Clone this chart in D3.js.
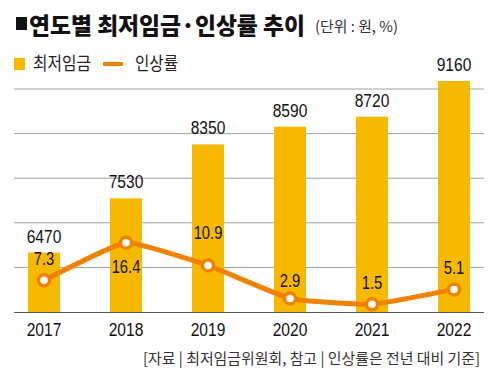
<!DOCTYPE html>
<html>
<head>
<meta charset="utf-8">
<script src="https://cdn.jsdelivr.net/npm/d3@7"></script>
<style>
  html, body { margin: 0; padding: 0; background: #fff; }
  svg { display: block; }
  .num { font-family: "Liberation Sans", Arial, sans-serif; fill: #111; }
  .kr { font-family: "Noto Sans CJK KR", "Noto Sans", sans-serif; }
</style>
</head>
<body>
<svg id="chart" width="500" height="388"></svg>
<script>
// data
const years = ["2017", "2018", "2019", "2020", "2021", "2022"]
const wages = [6470, 7530, 8350, 8590, 8720, 9160]
const rates = [7.3, 16.4, 10.9, 2.9, 1.5, 5.1]
const rateLabels = ["7.3", "16.4", "10.9", "2.9", "1.5", "5.1"]

const BAR = "#F7B900"
const LINE = "#EF8200"
const NARROW = 0.82 // digits in the original are condensed

const svg = d3.select("#chart")

// scales
// the bars in the original sit on a cut axis and grow faster than linear,
// so wage minus a floor is mapped on a square scale
const wageFloor = 3700
const x = d3.scalePoint().domain(years).range([44, 454])
const yBar = d3.scalePow().exponent(2).domain([0, 9160 - wageFloor]).range([312, 81])
const yRate = d3.scaleLinear().domain([0, 16.4]).range([310.5, 242.7])
const grid = d3.scaleLinear().domain([0, 5]).range([312, 89])
const barW = 32

const narrowAt = (px, py) => `translate(${px},${py}) scale(${NARROW},1)`

// title
svg.append("rect").attr("x", 16).attr("y", 17).attr("width", 11).attr("height", 13).attr("fill", "#111")
svg.append("text").attr("class", "kr")
  .attr("x", 29).attr("y", 34)
  .attr("font-size", 23).attr("font-weight", 900).attr("fill", "#111")
  .attr("textLength", 276).attr("lengthAdjust", "spacingAndGlyphs")
  .text("연도별 최저임금·인상률 추이")
svg.append("text").attr("class", "kr")
  .attr("x", 315).attr("y", 32)
  .attr("font-size", 15).attr("fill", "#333")
  .attr("textLength", 83).attr("lengthAdjust", "spacingAndGlyphs")
  .text("(단위 : 원, %)")

// legend
svg.append("rect").attr("x", 14).attr("y", 58).attr("width", 11).attr("height", 12).attr("fill", BAR)
svg.append("text").attr("class", "kr")
  .attr("x", 33).attr("y", 70)
  .attr("font-size", 18).attr("fill", "#222")
  .attr("textLength", 58).attr("lengthAdjust", "spacingAndGlyphs")
  .text("최저임금")
svg.append("line").attr("x1", 103).attr("x2", 123).attr("y1", 64).attr("y2", 64)
  .attr("stroke", LINE).attr("stroke-width", 4)
svg.append("text").attr("class", "kr")
  .attr("x", 135).attr("y", 70)
  .attr("font-size", 18).attr("fill", "#222")
  .attr("textLength", 43).attr("lengthAdjust", "spacingAndGlyphs")
  .text("인상률")

// gridlines
svg.append("g")
  .selectAll("line")
  .data(d3.range(1, 6))
  .join("line")
  .attr("x1", 14).attr("x2", 484)
  .attr("y1", d => grid(d)).attr("y2", d => grid(d))
  .attr("stroke", "#a0a0a0").attr("stroke-width", 1)

// bars
svg.append("g")
  .selectAll("rect")
  .data(wages)
  .join("rect")
  .attr("x", (d, i) => x(years[i]) - barW / 2)
  .attr("y", d => yBar(d - wageFloor))
  .attr("width", barW)
  .attr("height", d => yBar(0) - yBar(d - wageFloor))
  .attr("fill", BAR)

// baseline
svg.append("line").attr("x1", 14).attr("x2", 484).attr("y1", 312.5).attr("y2", 312.5)
  .attr("stroke", "#555").attr("stroke-width", 1.2)

// bar values
svg.append("g")
  .selectAll("text")
  .data(wages)
  .join("text")
  .attr("class", "num")
  .attr("transform", (d, i) => narrowAt(x(years[i]), yBar(d - wageFloor) - 10))
  .attr("text-anchor", "middle")
  .attr("font-size", 19)
  .text(d => d)

// rate line
const line = d3.line()
  .x((d, i) => x(years[i]))
  .y(d => yRate(d))
  .curve(d3.curveCardinal.tension(0.6))

svg.append("path")
  .datum(rates)
  .attr("d", line)
  .attr("fill", "none")
  .attr("stroke", LINE)
  .attr("stroke-width", 5)

svg.append("g")
  .selectAll("circle")
  .data(rates)
  .join("circle")
  .attr("cx", (d, i) => x(years[i]))
  .attr("cy", d => yRate(d))
  .attr("r", 5.5)
  .attr("fill", "#fff")
  .attr("stroke", LINE)
  .attr("stroke-width", 3.5)

// label placement: offset from point (negative above)
const rateDy = [-15, 30, -26, -12, -15, -15]
svg.append("g")
  .selectAll("text")
  .data(rates)
  .join("text")
  .attr("class", "num")
  .attr("transform", (d, i) => narrowAt(x(years[i]), yRate(d) + rateDy[i]))
  .attr("text-anchor", "middle")
  .attr("font-size", 18)
  .text((d, i) => rateLabels[i])

// x labels
svg.append("g")
  .selectAll("text")
  .data(years)
  .join("text")
  .attr("class", "num")
  .attr("transform", d => narrowAt(x(d), 336))
  .attr("text-anchor", "middle")
  .attr("font-size", 19)
  .text(d => d)

// source
svg.append("text").attr("class", "kr")
  .attr("x", 480).attr("y", 364)
  .attr("text-anchor", "end")
  .attr("font-size", 15).attr("fill", "#333")
  .attr("textLength", 337).attr("lengthAdjust", "spacingAndGlyphs")
  .text("[자료 | 최저임금위원회, 참고 | 인상률은 전년 대비 기준]")
</script>
</body>
</html>
